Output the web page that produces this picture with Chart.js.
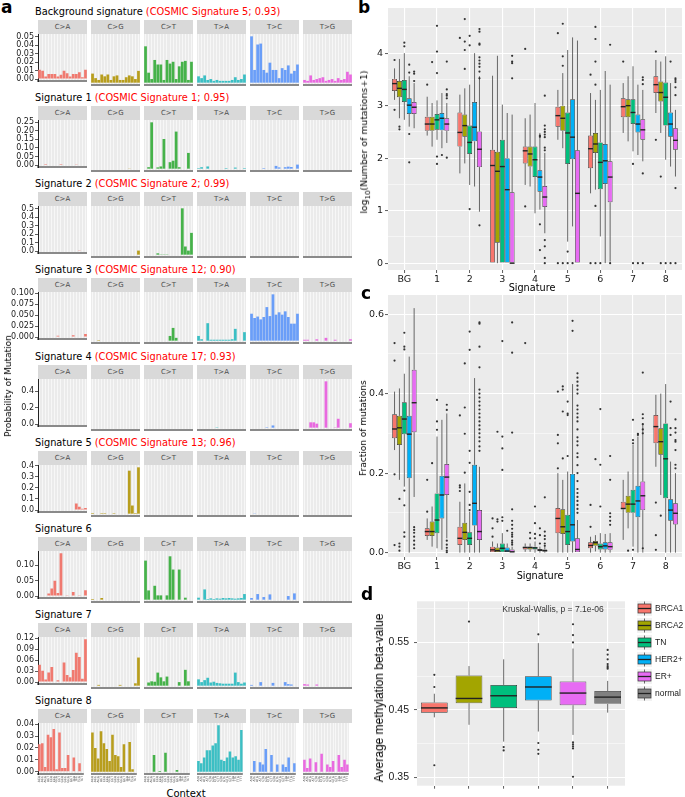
<!DOCTYPE html>
<html>
<head>
<meta charset="utf-8">
<script src="https://cdn.jsdelivr.net/npm/chart.js@4.4.1/dist/chart.umd.min.js"></script>
<style>
  body { margin: 0; background: #fff; font-family: "DejaVu Sans", sans-serif; }
  #wrap { position: relative; width: 685px; height: 797px; overflow: hidden; }
  canvas { position: absolute; }
</style>
</head>
<body>
<div id="wrap"></div>
<script>
// ---------- panel a: mutational signatures ----------
const substitutions = ['C>A', 'C>G', 'C>T', 'T>A', 'T>C', 'T>G'];
const subColors = ['#F07A70', '#B89E1E', '#46B24A', '#3CBFC4', '#6A9EF8', '#E96AE0'];
const ctxC = ['ACA','ACC','ACG','ACT','CCA','CCC','CCG','CCT','GCA','GCC','GCG','GCT','TCA','TCC','TCG','TCT'];
const ctxT = ['ATA','ATC','ATG','ATT','CTA','CTC','CTG','CTT','GTA','GTC','GTG','GTT','TTA','TTC','TTG','TTT'];
const sigNames = ['Background signature', 'Signature 1', 'Signature 2', 'Signature 3', 'Signature 4',
                  'Signature 5', 'Signature 6', 'Signature 7', 'Signature 8'];
const sigNotes = ['(COSMIC Signature 5; 0.93)', '(COSMIC Signature 1; 0.95)', '(COSMIC Signature 2; 0.99)',
                  '(COSMIC Signature 12; 0.90)', '(COSMIC Signature 17; 0.93)', '(COSMIC Signature 13; 0.96)', '', '', ''];
const sigSteps = [0.01, 0.05, 0.1, 0.025, 0.2, 0.1, 0.05, 0.03, 0.01];
const sigDecimals = [2, 2, 1, 3, 1, 1, 2, 2, 2];

const sigBG = [
  [0.011,0.010,0.003,0.006,0.006,0.006,0.003,0.005,0.010,0.007,0.003,0.006,0.006,0.008,0.002,0.011],
  [0.010,0.005,0.003,0.009,0.007,0.009,0.003,0.007,0.008,0.003,0.003,0.006,0.008,0.007,0.004,0.013],
  [0.040,0.011,0.004,0.025,0.020,0.020,0.003,0.025,0.021,0.023,0.004,0.018,0.023,0.024,0.003,0.023],
  [0.007,0.005,0.008,0.003,0.004,0.002,0.003,0.002,0.002,0.002,0.002,0.003,0.006,0.003,0.004,0.009],
  [0.051,0.014,0.042,0.043,0.014,0.011,0.022,0.014,0.014,0.005,0.016,0.014,0.019,0.010,0.013,0.020],
  [0.003,0.002,0.008,0.003,0.004,0.005,0.006,0.002,0.003,0.004,0.002,0.005,0.003,0.004,0.012,0.009]
];
const sig1 = [
  [0,0,0.001,0,0,0,0,0.001,0,0,0,0,0.002,0,0,0],
  [0,0,0,0,0,0,0,0,0,0,0,0,0.001,0,0,0],
  [0,0.008,0.25,0,0.007,0.012,0.16,0,0.035,0.043,0.20,0.008,0,0,0.085,0],
  [0.003,0.008,0,0.012,0,0,0,0,0,0.003,0,0,0.006,0,0,0.003],
  [0,0,0,0,0.003,0,0,0,0.015,0.007,0,0.008,0.011,0.009,0,0.022],
  [0,0,0,0,0,0,0,0,0,0,0,0,0,0,0,0]
];
const sig2 = [
  [0,0,0,0,0,0,0,0,0,0,0,0,0.008,0.005,0.006,0.006],
  [0,0,0,0,0,0,0,0,0,0,0,0,0,0,0,0.045],
  [0,0,0,0,0.015,0.003,0.003,0.003,0,0,0,0,0.51,0.09,0.045,0.24],
  [0,0,0,0,0,0,0,0,0,0,0,0,0,0,0,0],
  [0,0,0,0,0,0,0,0,0,0,0,0,0,0,0,0],
  [0,0,0,0,0,0,0,0,0,0,0,0,0,0,0,0]
];
const sig3 = [
  [0,0,0,0,0,0,0.003,0,0,0,0,0.004,0,0,0,0.007],
  [0,0,0.001,0,0,0,0,0,0,0,0,0,0,0,0,0],
  [0,0,0,0,0,0,0,0,0.01,0.027,0.006,0,0,0,0,0],
  [0.01,0.003,0,0.037,0.002,0.002,0.002,0.002,0.002,0.002,0.002,0.003,0.025,0,0,0.018],
  [0.057,0.048,0.051,0.045,0.050,0.071,0.052,0.098,0.055,0.060,0.055,0.062,0.050,0.036,0.036,0.057],
  [0.002,0.002,0,0,0.003,0,0,0.006,0,0,0.002,0,0,0,0,0.003]
];
const sig4 = [
  [0,0,0,0,0,0,0,0,0,0,0,0,0,0,0,0],
  [0,0,0,0,0,0,0,0,0,0,0,0,0,0,0,0],
  [0,0,0,0,0,0,0,0,0,0,0,0,0,0,0,0],
  [0,0,0,0,0,0,0.004,0,0,0,0,0,0,0,0,0],
  [0,0,0,0,0,0.005,0,0.025,0,0,0,0,0,0,0,0],
  [0,0,0.06,0.06,0.045,0,0,0.52,0,0,0.004,0.1,0,0,0,0.05]
];
const sig5 = [
  [0,0,0,0,0,0,0,0,0,0,0,0,0.058,0.03,0.012,0.018],
  [0.005,0,0,0.004,0.004,0,0,0.004,0,0,0,0,0.358,0.068,0.005,0.386],
  [0,0,0,0,0,0,0,0,0,0,0,0,0,0,0,0],
  [0,0,0,0,0,0,0,0,0,0,0,0,0,0,0,0],
  [0,0.002,0,0,0,0,0,0,0,0,0,0,0,0,0,0],
  [0,0,0,0,0,0,0,0,0,0,0,0,0,0,0,0]
];
const sig6 = [
  [0,0.002,0,0.008,0.025,0.05,0.01,0.14,0,0.003,0,0.013,0,0.003,0,0.019],
  [0.002,0,0,0.005,0,0,0,0,0,0,0,0,0,0,0,0],
  [0.118,0.028,0,0.042,0.013,0.013,0,0.013,0.131,0.091,0,0.091,0,0.006,0,0],
  [0.006,0,0.031,0.002,0.004,0.002,0.004,0.003,0.005,0.004,0.005,0.004,0.003,0.004,0.005,0.017],
  [0.005,0,0.017,0,0.008,0,0.016,0,0,0,0,0,0.011,0,0.019,0],
  [0,0,0,0,0,0,0,0,0,0,0,0,0,0,0,0]
];
const sig7 = [
  [0.047,0.031,0.007,0.026,0.041,0,0.005,0,0.053,0.019,0.013,0.033,0.080,0.068,0.009,0.117],
  [0,0,0.002,0,0,0,0,0,0,0.002,0,0,0,0,0.006,0.071],
  [0,0.008,0.011,0.01,0.033,0.021,0.011,0.023,0,0,0,0.009,0,0.04,0.011,0],
  [0.016,0.009,0.014,0.02,0.008,0.01,0.007,0.006,0.005,0.005,0.005,0.005,0.033,0.009,0.005,0.008],
  [0.002,0,0,0.009,0,0,0,0.007,0,0,0,0.009,0.004,0.003,0,0],
  [0.004,0.003,0,0,0.003,0,0,0,0,0,0,0,0,0,0,0]
];
const sig8 = [
  [0.023,0.024,0.004,0.031,0.029,0.036,0.002,0.033,0.003,0.003,0.014,0,0.012,0,0.007,0],
  [0.033,0.020,0.011,0.034,0.024,0.019,0.009,0.031,0.014,0.013,0.004,0.023,0,0.025,0.002,0],
  [0,0,0,0.014,0,0.0005,0,0.016,0,0,0,0.0015,0,0,0,0],
  [0.009,0.007,0.012,0.018,0.018,0.022,0.024,0.039,0.01,0.009,0.012,0.017,0.012,0.013,0.01,0.035],
  [0,0.009,0,0.008,0.006,0.019,0,0.014,0,0.006,0,0.006,0.004,0.012,0,0.007],
  [0.010,0.003,0.011,0,0.008,0,0.015,0,0.006,0.004,0.009,0,0.014,0.004,0.010,0.006]
];
const sigRows = [sigBG, sig1, sig2, sig3, sig4, sig5, sig6, sig7, sig8];

// ---------- panels b, c, d: box statistics [lower whisker, q1, median, q3, upper whisker] ----------
const groups = ['BRCA1', 'BRCA2', 'TN', 'HER2+', 'ER+'];
const groupColors = ['#F8766D', '#A3A500', '#00BF7D', '#00B0F6', '#E76BF3'];
const sigCats = ['BG', '1', '2', '3', '4', '5', '6', '7', '8'];

const logBRCA1 = [[3.11,3.28,3.42,3.51,3.71],[2.43,2.52,2.65,2.79,3.17],[1.71,2.22,2.49,2.87,3.21],[0,0,1.86,2.16,3.57],
  [1.49,1.9,2.14,2.22,2.76],[2.35,2.6,2.81,2.98,3.3],[1.33,1.81,2.18,2.43,3.24],[2.48,2.78,2.98,3.14,3.43],[2.86,3.24,3.4,3.56,3.87]];
const logBRCA1Out = [[3.87,2.92],[3.4],[4.29],[],[4.08,1.08],[4.38,0],[3.59,0],[3.84],[4.03,2.35]];
const logBRCA2 = [[2.76,3.16,3.33,3.47,3.89],[2.22,2.52,2.65,2.79,3.05],[1.9,2.41,2.62,2.83,3.33],[0,0.39,1.75,2.12,3.95],
  [1.46,1.84,2.08,2.22,2.83],[2.19,2.52,2.76,3.0,3.62],[1.4,2.1,2.27,2.48,3.11],[2.32,2.78,3.0,3.12,3.56],[2.48,3.08,3.25,3.46,3.84]];
const logBRCA2Out = [[2.6,2.55],[3.83],[4.65,4.22,4.06,3.7],[],[],[4.56,3.94,3.76,0],[4.5,4.27,3.84,3.4,1.09,0],[],[1.65,0]];
const logTN = [[2.73,3.07,3.31,3.49,4.0],[2.35,2.54,2.73,2.84,3.1],[1.49,2.08,2.3,2.62,3.4],[0,0,1.84,2.35,3.02],
  [0.95,1.64,1.97,2.22,3.05],[0.41,1.89,2.48,2.87,4.06],[0.51,1.41,1.92,2.3,3.3],[2.13,2.65,2.87,3.12,3.75],[1.97,2.62,3.16,3.44,3.94]];
const logTNOut = [[4.2,4.13],[4.52,4.03,3.62,2.03,1.89],[4.33,4.15,1.03],[],[],[0.22,0],[0],[1.89,0],[0]];
const logHER2 = [[2.6,2.84,3.01,3.14,3.56],[2.19,2.53,2.76,2.86,3.24],[1.46,2.32,2.59,3.07,4.0],[0,0,1.4,2.0,2.86],
  [1.02,1.36,1.64,1.77,2.48],[0.7,1.98,2.4,3.12,4.3],[0,1.51,1.95,2.27,3.66],[2.06,2.49,2.65,2.83,3.4],[1.84,2.41,2.65,2.87,3.43]];
const logHER2Out = [[3.78,3.63,2.46,1.92],[2.06],[],[],[2.43,2.41,0.74,0.25],[0],[],[0],[3.84,0]];
const logER = [[2.57,2.84,2.97,3.07,3.43],[2.29,2.52,2.65,2.76,3.05],[0.98,1.83,2.17,2.51,3.56],[0,0,0,1.35,2.83],
  [0.57,1.07,1.26,1.47,2.1],[0,0,1.33,2.15,4.24],[0.03,1.16,1.64,1.94,3.4],[1.94,2.35,2.54,2.74,3.3],[1.65,2.16,2.34,2.57,2.92]];
const logEROut = [[3.65,3.61,3.47],[3.84,3.31,3.22,3.19,3.14,2.01],[4.46,4.41,4.18,4.16,3.92,3.86,3.8,3.74,3.65,3.52,0.72],
  [3.95,3.84,3.81,3.52],[3.19,2.62,2.55,2.5,2.45,2.4,2.2,2.15,0.44,0.32,0.1,0],[],[4.16,0],[3.54,3.49,3.41,1.71,0],
  [3.52,3.49,3.45,3.35,3.2,1.43,0]];

const fracBRCA1 = [[0.258,0.288,0.311,0.348,0.405],[0.032,0.042,0.053,0.061,0.086],[0,0.019,0.036,0.065,0.128],[0,0,0.007,0.015,0.028],
  [0.002,0.008,0.013,0.015,0.023],[0,0.049,0.086,0.112,0.2],[0,0.011,0.018,0.026,0.04],[0.032,0.109,0.111,0.128,0.183],[0.216,0.275,0.317,0.346,0.397]];
const fracBRCA1Out = [[0.527,0.483,0.197,0.019],[0.183,0.103],[0.345,0.169,0.164,0.155],[0.086,0.061,0.04],[0.527],
  [0.405,0.296,0.275,0.212],[0.12,0.065],[],[0.126,0.044,0.007]];
const fracBRCA2 = [[0.183,0.271,0.314,0.344,0.413],[0.015,0.042,0.053,0.078,0.116],[0,0.032,0.051,0.075,0.174],[0,0,0.005,0.013,0.023],
  [0.002,0.008,0.013,0.015,0.023],[0,0.047,0.065,0.109,0.183],[0.003,0.017,0.025,0.029,0.044],[0.061,0.1,0.122,0.143,0.204],[0.145,0.246,0.279,0.313,0.4]];
const fracBRCA2Out = [[0.135,0.023,0.015,0.005],[0.225],[0.476,0.365,0.299,0.201],[0.304,0.084,0.078],[0.05,0.036],
  [0.418,0.41,0.355,0.237],[0.235],[0.005],[0.093]];
const fracTN = [[0.166,0.298,0.336,0.378,0.45],[0.011,0.049,0.082,0.149,0.292],[0,0.019,0.036,0.051,0.103],[0,0,0.011,0.023,0.049],
  [0,0.008,0.012,0.015,0.028],[0,0.019,0.053,0.095,0.204],[0,0.008,0.015,0.023,0.049],[0.015,0.1,0.122,0.158,0.271],[0,0.137,0.236,0.325,0.424]];
const fracTNOut = [[0.553,0.518,0.511,0.156,0.119,0.051,0.04],[0.384,0.33,0.309],[0.556,0.51,0.256,0.226,0.153,0.12,0.107],
  [0.532,0.292,0.262,0.208,0.089,0.08],[0.116,0.074,0.047,0.036],[0.38,0.35,0.346,0.243],[0.361,0.221,0.116],
  [0.334,0.283,0.275,0.007],[]];
const fracHER2 = [[0,0.187,0.298,0.344,0.493],[0.007,0.086,0.145,0.193,0.334],[0,0.068,0.124,0.221,0.439],[0,0,0.004,0.013,0.023],
  [0,0.004,0.007,0.008,0.015],[0,0.028,0.07,0.198,0.424],[0,0.008,0.017,0.026,0.047],[0,0.089,0.13,0.168,0.292],[0,0.08,0.107,0.134,0.229]];
const fracHER2Out = [[],[],[],[0.055],[0.061,0.044,0.023],[0.583,0.558],[],[0.299,0.296],[0.38,0.313,0.296]];
const fracER = [[0.14,0.303,0.377,0.46,0.615],[0.036,0.145,0.19,0.223,0.35],[0,0.032,0.053,0.107,0.216],[0,0,0.002,0.008,0.015],
  [0,0.003,0.005,0.008,0.015],[0,0,0.008,0.036,0.082],[0,0.007,0.015,0.026,0.049],[0,0.107,0.143,0.179,0.325],[0,0.071,0.099,0.124,0.2]];
const fracEROut = [[0.064,0.057,0.05,0.04,0.03,0.02,0.011],[0.372,0.359,0.03,0.02,0.012,0.005,0.001],
  [0.579,0.576,0.518,0.466,0.41,0.4,0.39,0.38,0.37,0.36,0.35,0.34,0.33,0.32,0.31,0.3,0.29,0.28,0.267,0.256],
  [0.579,0.503,0.302,0.109,0.08,0.07,0.06,0.05,0.045,0.04,0.03,0.025,0.02],[0.139,0.053,0.042,0.034,0.023,0.017],
  [0.451,0.44,0.43,0.42,0.41,0.4,0.37,0.36,0.35,0.34,0.33,0.31,0.29,0.28,0.27,0.25,0.24,0.22,0.2,0.18,0.16,0.15,0.14,0.13,0.12,0.11,0.1],
  [0.243,0.183,0.099,0.09,0.08,0.07],[0.453,0.348,0.338,0.323,0.31,0.3,0.011],
  [0.335,0.313,0.302,0.283,0.279,0.258,0.221,0.212]];

const methylGroups = ['BRCA1', 'BRCA2', 'TN', 'HER2+', 'ER+', 'normal'];
const methylColors = ['#F8766D', '#A3A500', '#00BF7D', '#00B0F6', '#E76BF3', '#808080'];
const methylStats = [[0.439,0.446,0.453,0.461,0.474],[0.428,0.460,0.467,0.501,0.515],[0.403,0.453,0.471,0.487,0.525],
  [0.418,0.464,0.484,0.500,0.549],[0.413,0.457,0.475,0.492,0.541],[0.446,0.459,0.469,0.478,0.493]];
const methylOut = [[0.502,0.484,0.368],[0.581],[0.395,0.390],[0.562,0.401,0.391,0.385],
  [0.577,0.561,0.550,0.402,0.399,0.396,0.393,0.351],[0.539,0.532,0.525,0.518,0.515,0.513,0.511]];

// ---------- helpers ----------
Chart.defaults.font.family = '"DejaVu Sans", sans-serif';
const wrap = document.getElementById('wrap');

function addCanvas(left, top, w, h) {
  const c = document.createElement('canvas');
  c.width = w; c.height = h;
  c.style.left = left + 'px'; c.style.top = top + 'px';
  c.style.width = w + 'px'; c.style.height = h + 'px';
  wrap.appendChild(c);
  return c;
}
function addText(html, css) {
  const d = document.createElement('div');
  d.innerHTML = html;
  d.style.cssText = 'position:absolute;white-space:nowrap;' + css;
  wrap.appendChild(d);
  return d;
}

const panelBg = {
  id: 'panelBg',
  beforeDraw(chart) {
    const a = chart.chartArea, ctx = chart.ctx;
    ctx.save();
    ctx.fillStyle = '#EBEBEB';
    ctx.fillRect(a.left, a.top, a.right - a.left, a.bottom - a.top);
    ctx.restore();
  }
};

// whiskers behind the boxes, medians and outliers on top
const boxPlugin = {
  id: 'boxWhisk',
  beforeDatasetsDraw(chart) {
    const ctx = chart.ctx, ys = chart.scales.y;
    ctx.save();
    ctx.strokeStyle = '#444';
    ctx.lineWidth = 0.8;
    chart.data.datasets.forEach((ds, i) => {
      chart.getDatasetMeta(i).data.forEach((el, j) => {
        const s = ds.stats[j];
        ctx.beginPath();
        ctx.moveTo(el.x, ys.getPixelForValue(s[4])); ctx.lineTo(el.x, ys.getPixelForValue(s[3]));
        ctx.moveTo(el.x, ys.getPixelForValue(s[1])); ctx.lineTo(el.x, ys.getPixelForValue(s[0]));
        ctx.stroke();
      });
    });
    ctx.restore();
  },
  afterDatasetsDraw(chart) {
    const ctx = chart.ctx, ys = chart.scales.y;
    ctx.save();
    chart.data.datasets.forEach((ds, i) => {
      chart.getDatasetMeta(i).data.forEach((el, j) => {
        const s = ds.stats[j];
        const ym = ys.getPixelForValue(s[2]);
        ctx.strokeStyle = '#222';
        ctx.lineWidth = 1.4;
        ctx.beginPath();
        ctx.moveTo(el.x - el.width / 2, ym); ctx.lineTo(el.x + el.width / 2, ym);
        ctx.stroke();
        ctx.fillStyle = '#333';
        ds.outliers[j].forEach(v => {
          ctx.beginPath();
          ctx.arc(el.x, ys.getPixelForValue(v), 1.1, 0, Math.PI * 2);
          ctx.fill();
        });
      });
    });
    ctx.restore();
  }
};

// ---------- panel a ----------
const FACET_X0 = 38, FACET_STEP = 53, FACET_W = 49;
const PLOT_H = 51, ROW0_BOTTOM = 84.8, ROW_PITCH = 86.2, TOP_PAD = 6;

addText('a', 'left:1px;top:-3px;font-weight:bold;font-size:17px;');

sigRows.forEach((sig, r) => {
  const plotBottom = Math.round(ROW0_BOTTOM + r * ROW_PITCH);
  const plotTop = plotBottom - PLOT_H;
  addText(sigNames[r] + ' <span style="color:#ff0000">' + sigNotes[r] + '</span>',
    'left:35px;top:' + (plotTop - 29) + 'px;font-size:9.8px;line-height:14px;color:#000;');
  const dmax = Math.max(...sig.flat());
  const ymin = -0.05 * dmax, ymax = 1.05 * dmax;
  const last = r === sigRows.length - 1;
  const xh = last ? 12 : 2;

  substitutions.forEach((sub, k) => {
    const fx = FACET_X0 + k * FACET_STEP;
    const first = k === 0;
    addText(sub, 'left:' + fx + 'px;top:' + (plotTop - 14) + 'px;width:' + FACET_W + 'px;height:14px;line-height:14px;' +
      'background:#D9D9D9;color:#4d4d4d;font-size:7px;text-align:center;');
    const c = addCanvas(first ? 0 : fx, plotTop - TOP_PAD, first ? fx + FACET_W : FACET_W, PLOT_H + xh + TOP_PAD);
    new Chart(c, {
      type: 'bar',
      data: {
        labels: k < 3 ? ctxC : ctxT,
        datasets: [{ data: sig[k], backgroundColor: subColors[k], barPercentage: 0.9, categoryPercentage: 1 }]
      },
      options: {
        responsive: false, animation: false,
        layout: { padding: { top: TOP_PAD, left: 0, right: 0, bottom: 0 } },
        plugins: { legend: { display: false }, tooltip: { enabled: false } },
        scales: {
          x: {
            grid: { color: '#ffffff', lineWidth: 0.6, offset: false, drawTicks: last, tickLength: 1, tickColor: '#333' },
            border: { display: true, color: '#8a8a8a', width: 2 },
            ticks: { display: last, font: { size: 3 }, color: '#333', minRotation: 90, maxRotation: 90, autoSkip: false, padding: 1 },
            afterFit: s => { s.height = xh; }
          },
          y: {
            display: first, min: ymin, max: ymax,
            afterBuildTicks: s => {
              const t = [];
              for (let v = 0; v <= ymax + 1e-9; v += sigSteps[r]) t.push({ value: +v.toFixed(6) });
              s.ticks = t;
            },
            afterFit: s => { s.width = first ? fx : 0; },
            grid: { drawOnChartArea: false, drawTicks: true, tickLength: 3, tickColor: '#333', tickWidth: 0.8 },
            border: { display: true, color: '#222', width: 1 },
            ticks: { autoSkip: false, font: { size: 8 }, color: '#1a1a1a', padding: 1,
                     callback: v => (+v).toFixed(sigDecimals[r]) }
          }
        }
      },
      plugins: [panelBg]
    });
  });
});

addText('Probability of Mutation', 'left:8px;top:386px;transform:translate(-50%,-50%) rotate(-90deg);font-size:9px;color:#000;');
addText('Context', 'left:186px;top:793px;transform:translate(-50%,-50%);font-size:10px;color:#000;');

// ---------- boxplot charts ----------
function boxChart(canvas, cfg) {
  const isMajor = v => Math.abs((v - cfg.base) / cfg.major - Math.round((v - cfg.base) / cfg.major)) < 1e-6;
  return new Chart(canvas, {
    type: 'bar',
    data: { labels: cfg.labels, datasets: cfg.datasets },
    options: {
      responsive: false, animation: false,
      layout: { padding: cfg.padding },
      plugins: { legend: { display: false }, tooltip: { enabled: false } },
      scales: {
        x: {
          grid: { color: '#ffffff', lineWidth: 1.1, offset: false, tickLength: 3, tickColor: '#333', tickWidth: 0.8 },
          border: { display: false },
          ticks: { display: cfg.xLabels, font: { size: cfg.fontSize, family: cfg.family }, color: '#1a1a1a', padding: 1 },
          afterFit: s => { s.height = cfg.xHeight; }
        },
        y: {
          min: cfg.min, max: cfg.max,
          afterBuildTicks: s => {
            const t = [];
            for (let v = cfg.tickStart; v <= cfg.max + 1e-9; v += cfg.minor) t.push({ value: +v.toFixed(6) });
            s.ticks = t;
          },
          afterFit: s => { s.width = cfg.yWidth; },
          grid: {
            color: '#ffffff',
            lineWidth: c => (c.tick && isMajor(c.tick.value)) ? 1.1 : 0.5,
            tickLength: 3, tickWidth: 0.8,
            tickColor: c => (c.tick && isMajor(c.tick.value)) ? '#333' : 'rgba(0,0,0,0)'
          },
          border: { display: false },
          ticks: {
            autoSkip: false,
            font: { size: cfg.fontSize, family: cfg.family }, color: '#1a1a1a', padding: cfg.yPad,
            callback: v => isMajor(v) ? cfg.fmt(v) : ''
          }
        }
      }
    },
    plugins: [panelBg, boxPlugin]
  });
}

function groupSets(statsList, outList) {
  return groups.map((g, i) => ({
    label: g,
    data: statsList[i].map(s => [s[1], s[3]]),
    stats: statsList[i], outliers: outList[i],
    backgroundColor: groupColors[i], borderColor: '#333', borderWidth: 0.7, borderSkipped: false,
    categoryPercentage: 0.75, barPercentage: 1
  }));
}

// panel b
addText('b', 'left:358px;top:-3px;font-weight:bold;font-size:17px;');
boxChart(addCanvas(355, 0, 330, 285), {
  labels: sigCats,
  datasets: groupSets([logBRCA1, logBRCA2, logTN, logHER2, logER],
                      [logBRCA1Out, logBRCA2Out, logTNOut, logHER2Out, logEROut]),
  padding: { top: 8, right: 3, left: 0, bottom: 0 },
  min: -0.13, max: 4.86, tickStart: 0, minor: 0.5, major: 1, base: 0,
  fmt: v => String(Math.round(v)), yWidth: 33, xHeight: 15, yPad: 2, fontSize: 9.5, xLabels: true
});
addText('log<sub style="font-size:7px">10</sub>(Number of mutations+1)',
  'left:365px;top:142px;transform:translate(-50%,-50%) rotate(-90deg);font-size:9.3px;color:#000;');
addText('Signature', 'left:532px;top:287px;transform:translate(-50%,-50%);font-size:9.7px;color:#000;');

// panel c
addText('c', 'left:361px;top:283px;font-weight:bold;font-size:17px;');
boxChart(addCanvas(355, 285, 330, 290), {
  labels: sigCats,
  datasets: groupSets([fracBRCA1, fracBRCA2, fracTN, fracHER2, fracER],
                      [fracBRCA1Out, fracBRCA2Out, fracTNOut, fracHER2Out, fracEROut]),
  padding: { top: 10, right: 3, left: 0, bottom: 0 },
  min: -0.011, max: 0.648, tickStart: 0, minor: 0.1, major: 0.2, base: 0,
  fmt: v => v.toFixed(1), yWidth: 33, xHeight: 18, yPad: 1, fontSize: 9.5, xLabels: true
});
addText('Fraction of mutations', 'left:363px;top:428px;transform:translate(-50%,-50%) rotate(-90deg);font-size:9px;color:#000;');
addText('Signature', 'left:540px;top:575px;transform:translate(-50%,-50%);font-size:9.7px;color:#000;');

// panel d
addText('d', 'left:361px;top:584px;font-weight:bold;font-size:17px;');
boxChart(addCanvas(380, 590, 245, 207), {
  labels: methylGroups,
  datasets: [{
    label: 'methylation',
    data: methylStats.map(s => [s[1], s[3]]),
    stats: methylStats, outliers: methylOut,
    backgroundColor: methylColors, borderColor: '#333', borderWidth: 0.7, borderSkipped: false,
    categoryPercentage: 0.77, barPercentage: 1
  }],
  padding: { top: 10, right: 0, left: 0, bottom: 0 },
  min: 0.3377, max: 0.611, tickStart: 0.35, minor: 0.05, major: 0.1, base: 0.35,
  fmt: v => v.toFixed(2), yWidth: 37, xHeight: 4, yPad: 5, fontSize: 10.5,
  family: '"Liberation Sans", sans-serif', xLabels: false
});
addText('Average methylation beta-value',
  'left:379px;top:698px;transform:translate(-50%,-50%) rotate(-90deg);font-size:12px;color:#000;font-family:"Liberation Sans",sans-serif;');
addText('Kruskal-Wallis, p = 7.1e-06',
  'left:553px;top:609px;transform:translate(-50%,-50%);font-size:8.5px;color:#333;font-family:"Liberation Sans",sans-serif;');

// legend of panel d
methylGroups.forEach((g, i) => {
  const cy = 608 + i * 17;
  addText('<svg width="15" height="15" viewBox="0 0 15 15">' +
    '<rect width="15" height="15" fill="#F2F2F2"/>' +
    '<line x1="7.5" y1="0.5" x2="7.5" y2="14.5" stroke="#444" stroke-width="0.8"/>' +
    '<rect x="1" y="3" width="13" height="9" fill="' + methylColors[i] + '" stroke="#333" stroke-width="0.7"/>' +
    '<line x1="1" y1="7.5" x2="14" y2="7.5" stroke="#222" stroke-width="1.3"/></svg>',
    'left:637px;top:' + (cy - 7.5) + 'px;width:15px;height:15px;line-height:0;');
  addText(g, 'left:655px;top:' + cy + 'px;transform:translateY(-50%);font-size:8.5px;color:#1a1a1a;font-family:"Liberation Sans",sans-serif;');
});
</script>
</body>
</html>
